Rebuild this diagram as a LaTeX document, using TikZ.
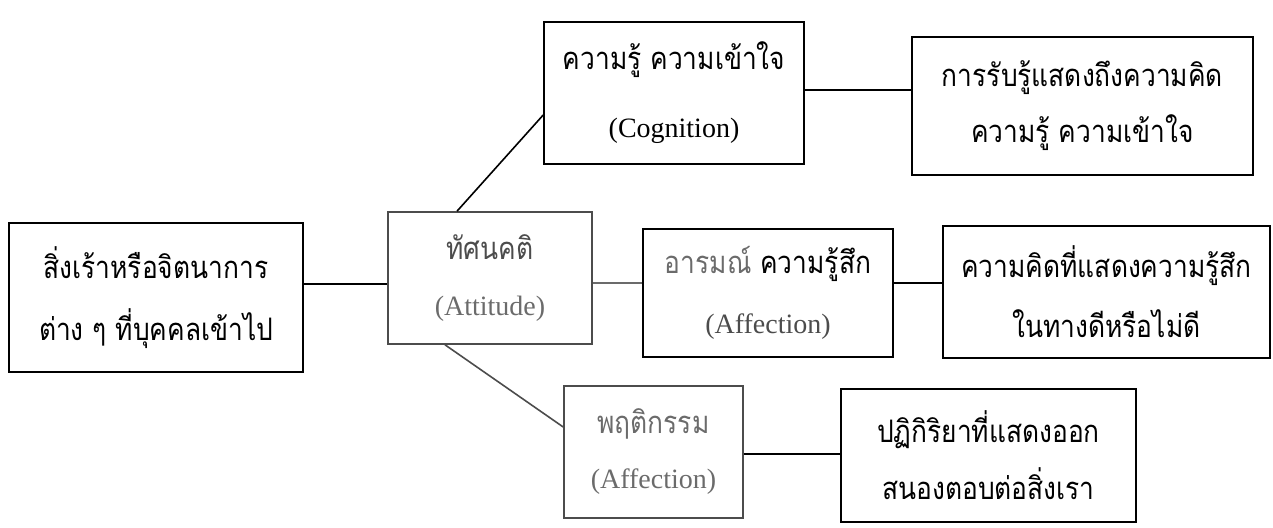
\documentclass[tikz,border=0pt]{standalone}
\usepackage{fontspec}
\setmainfont{Liberation Serif}
\newfontfamily\thai[Script=Thai,FakeStretch=0.85]{Loma}
\definecolor{wm}{gray}{0.42}
\definecolor{wmd}{gray}{0.3}
\tikzset{
  box/.style={draw, line width=1.6pt, rectangle, inner sep=0pt, align=center,
    font=\fontsize{28}{60}\selectfont},
  conn/.style={line width=1.6pt},
}
\newcommand{\tx}[1]{{\thai\fontsize{31}{10}\selectfont #1}}
\begin{document}
\begin{tikzpicture}[x=1pt,y=-1pt]
\useasboundingbox (0,0) rectangle (1273,527);
\node[box, minimum width=294pt, minimum height=149pt, font=\fontsize{28}{62}\selectfont] (L) at (156,297.5)
  {\tx{สิ่งเร้าหรือจิตนาการ}\\\tx{ต่าง ๆ ที่บุคคลเข้าไป}};
\node[box, draw=wmd, minimum width=204pt, minimum height=132pt, font=\fontsize{28}{56}\selectfont] (A) at (490,278)
  {{\color{wmd}\tx{ทัศนคติ}}\\{\color{wm}(Attitude)}};
\node[box, minimum width=260pt, minimum height=142pt, font=\fontsize{28}{68}\selectfont] (C) at (674,93)
  {\tx{ความรู้ ความเข้าใจ}\\(Cognition)};
\node[box, minimum width=341pt, minimum height=138pt, font=\fontsize{28}{56}\selectfont] (R1) at (1082.5,106)
  {\tx{การรับรู้แสดงถึงความคิด}\\\tx{ความรู้ ความเข้าใจ}};
\node[box, minimum width=250pt, minimum height=128pt] (E) at (768,293)
  {\tx{{\color{wm}อารมณ์} ความรู้สึก}\\{\color{wmd}(Affection)}};
\node[box, minimum width=327pt, minimum height=132pt] (R2) at (1106.5,292)
  {\tx{ความคิดที่แสดงความรู้สึก}\\\tx{ในทางดีหรือไม่ดี}};
\node[box, draw=wmd, minimum width=179pt, minimum height=132pt, font=\fontsize{28}{55}\selectfont] (B) at (653.5,452)
  {{\color{wm}\tx{พฤติกรรม}}\\{\color{wm}(Affection)}};
\node[box, minimum width=295pt, minimum height=133pt, font=\fontsize{28}{57}\selectfont] (R3) at (988.5,455.5)
  {\tx{ปฏิกิริยาที่แสดงออก}\\\tx{สนองตอบต่อสิ่งเรา}};
\draw[conn] (L.east |- 0,284) -- (A.west |- 0,284);
\draw[conn] (A.north -| 457,0) -- (C.west |- 0,115);
\draw[conn] (C.east |- 0,90) -- (R1.west |- 0,90);
\draw[conn, draw=wm] (A.east |- 0,283) -- (E.west |- 0,283);
\draw[conn] (E.east |- 0,283) -- (R2.west |- 0,283);
\draw[conn, draw=wmd] (A.south -| 445,0) -- (B.west |- 0,427);
\draw[conn] (B.east |- 0,454) -- (R3.west |- 0,454);
\end{tikzpicture}
\end{document}
